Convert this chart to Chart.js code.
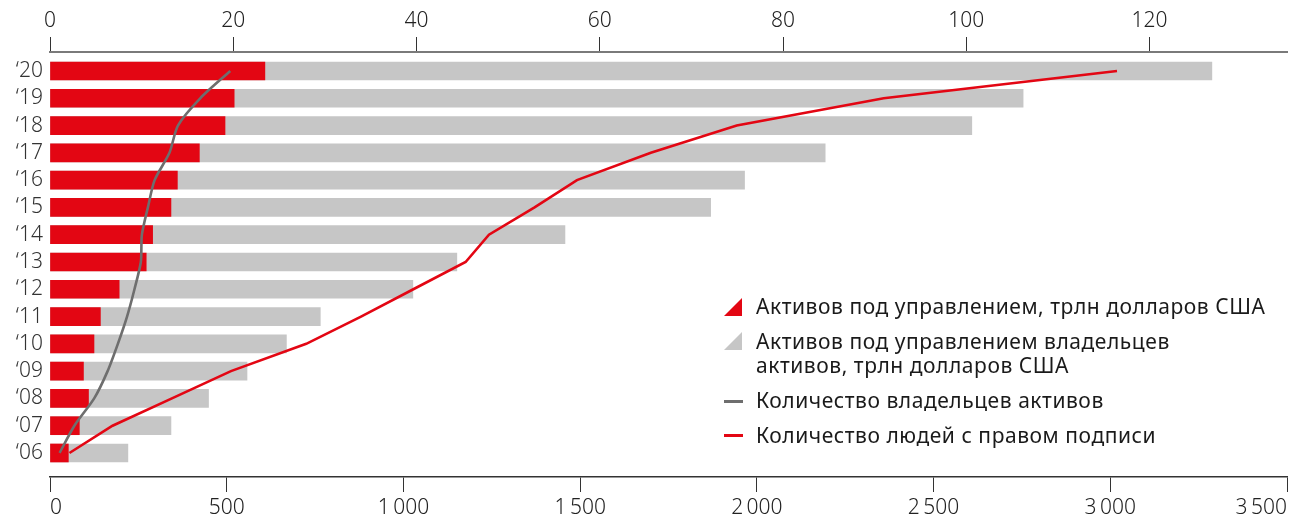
<!DOCTYPE html>
<html lang="ru">
<head>
<meta charset="utf-8">
<title>Активы под управлением и количество подписантов</title>
<script src="https://cdn.jsdelivr.net/npm/chart.js@4/dist/chart.umd.min.js"></script>
<style>
  html, body { margin: 0; padding: 0; background: #fff; }
  #wrap { position: relative; width: 1302px; height: 519px; overflow: hidden; }
  canvas { display: block; }
  .legend-item {
    position: absolute; left: 756px;
    font-family: "Noto Sans", "DejaVu Sans", sans-serif; font-weight: 400;
    font-size: 21px; line-height: 24px; letter-spacing: 0.55px; color: #1a1a1a; white-space: nowrap;
  }
  .mark { position: absolute; left: 724px; }
  .tri { width: 18px; height: 18px; clip-path: polygon(100% 0, 100% 100%, 0 100%); }
  .ln { width: 19px; height: 3px; }
</style>
</head>
<body>
<div id="wrap">
  <canvas id="chart" width="1302" height="519"></canvas>

  <div class="mark tri" style="top:298px;background:#e30613"></div>
  <div class="legend-item" style="top:294px">Активов под управлением, трлн долларов США</div>

  <div class="mark tri" style="top:332px;background:#c6c6c6"></div>
  <div class="legend-item" style="top:329px">Активов под управлением владельцев<br>активов, трлн долларов США</div>

  <div class="mark ln" style="top:400px;background:#6e6e6e"></div>
  <div class="legend-item" style="top:388px">Количество владельцев активов</div>

  <div class="mark ln" style="top:434px;background:#e30613"></div>
  <div class="legend-item" style="top:423px">Количество людей с правом подписи</div>
</div>

<script>
// Годы и подписи оси
const years = [2006, 2007, 2008, 2009, 2010, 2011, 2012, 2013, 2014, 2015, 2016, 2017, 2018, 2019, 2020];
const yearLabels = ['‘06', '‘07', '‘08', '‘09', '‘10', '‘11', '‘12', '‘13', '‘14', '‘15', '‘16', '‘17', '‘18', '‘19', '‘20'];

// Активы под управлением, трлн долларов США
const assetsUnderManagement = [2.0, 3.2, 4.2, 3.65, 4.8, 5.5, 7.55, 10.5, 11.2, 13.2, 13.9, 16.3, 19.1, 20.1, 23.45];
// Активы под управлением владельцев активов, трлн долларов США
const assetOwnersAum = [8.5, 13.2, 17.3, 21.5, 25.8, 29.5, 39.6, 44.4, 56.2, 72.1, 75.8, 84.6, 100.6, 106.2, 126.8];

// Количество владельцев активов
const assetOwnersCount = [27, 69, 125, 163, 192, 218, 239, 257, 260, 277, 296, 338, 362, 425, 510];
// Количество людей с правом подписи
const signatoriesCount = [55, 177, 345, 512, 725, 880, 1028, 1176, 1242, 1371, 1491, 1700, 1943, 2359, 3019];

// Деления осей
const trillionTicks = [0, 20, 40, 60, 80, 100, 120];
const countTicks = [0, 500, 1000, 1500, 2000, 2500, 3000, 3500];

const FONT = '"Noto Sans", "DejaVu Sans", sans-serif';
const RED = '#e30613';
const LIGHT_GREY = '#c6c6c6';
const DARK_GREY = '#6e6e6e';

const points = (values) => values.map((v, i) => ({ x: v, y: years[i] }));
const fmtCount = (v) => String(v).replace(/\B(?=(\d{3})+(?!\d))/g, '\u2009');

new Chart(document.getElementById('chart'), {
  type: 'bar',
  data: {
    datasets: [
      {
        type: 'line', label: 'Количество владельцев активов',
        data: points(assetOwnersCount), indexAxis: 'y',
        xAxisID: 'x2', yAxisID: 'y',
        borderColor: DARK_GREY, borderWidth: 2.6, tension: 0.25,
        pointRadius: 0, fill: false, order: 0
      },
      {
        type: 'line', label: 'Количество людей с правом подписи',
        data: points(signatoriesCount), indexAxis: 'y',
        xAxisID: 'x2', yAxisID: 'y',
        borderColor: RED, borderWidth: 2.6, tension: 0,
        pointRadius: 0, fill: false, order: 0
      },
      {
        label: 'Активов под управлением, трлн долларов США',
        data: points(assetsUnderManagement),
        xAxisID: 'x', yAxisID: 'y',
        backgroundColor: RED, barThickness: 18, grouped: false, order: 1
      },
      {
        label: 'Активов под управлением владельцев активов, трлн долларов США',
        data: points(assetOwnersAum),
        xAxisID: 'x', yAxisID: 'y',
        backgroundColor: LIGHT_GREY, barThickness: 18, grouped: false, order: 2
      }
    ]
  },
  options: {
    indexAxis: 'y',
    responsive: false,
    animation: false,
    events: [],
    layout: { padding: { left: 0, right: 15, top: 0, bottom: 0 } },
    plugins: { legend: { display: false }, tooltip: { enabled: false } },
    scales: {
      x: {
        type: 'linear', position: 'top', min: 0, max: 135, offset: false,
        afterBuildTicks: (s) => { s.ticks = trillionTicks.map((v) => ({ value: v })); },
        afterFit: (s) => { s.height = 52; },
        grid: { drawOnChartArea: false, drawTicks: true, tickLength: 15, tickColor: '#333', tickWidth: 1 },
        border: { display: true, color: '#7a7a7a', width: 2 },
        ticks: { color: '#222', font: { family: FONT, size: 21, weight: 300 }, padding: 3, maxRotation: 0, autoSkip: false }
      },
      x2: {
        type: 'linear', position: 'bottom', min: 0, max: 3500, offset: false,
        afterBuildTicks: (s) => { s.ticks = countTicks.map((v) => ({ value: v })); },
        afterFit: (s) => { s.height = 42; },
        grid: { drawOnChartArea: false, drawTicks: true, tickLength: 15, tickColor: '#333', tickWidth: 1 },
        border: { display: true, color: '#333', width: 1.5 },
        ticks: {
          color: '#222', font: { family: FONT, size: 21, weight: 300 }, padding: 3, align: 'inner',
          maxRotation: 0, autoSkip: false, callback: (v) => fmtCount(v)
        }
      },
      y: {
        type: 'linear', position: 'left', min: 2005.12, max: 2020.696, offset: false,
        afterBuildTicks: (s) => { s.ticks = years.map((v) => ({ value: v })); },
        afterFit: (s) => { s.width = 50; },
        grid: { display: false, drawTicks: false, offset: false },
        border: { display: false },
        ticks: {
          color: '#333', font: { family: FONT, size: 21, weight: 300 }, padding: 7, autoSkip: false,
          callback: (v) => yearLabels[years.indexOf(v)]
        }
      }
    }
  }
});
</script>
</body>
</html>
